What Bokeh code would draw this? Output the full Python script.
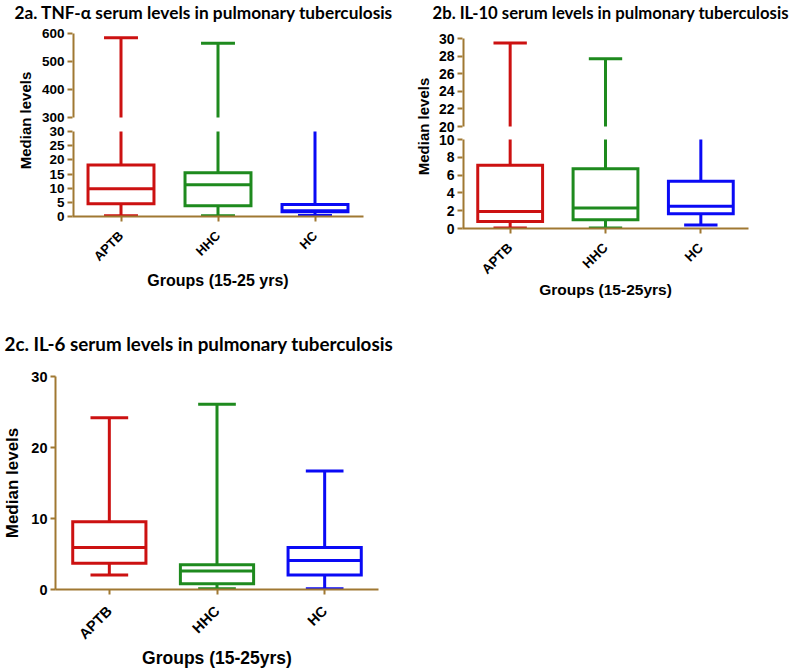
import numpy as np
from math import pi
from bokeh.plotting import figure
from bokeh.models import ColumnDataSource, FactorRange, Range1d, FixedTicker, CustomJSTickFormatter
from bokeh.transform import dodge
from bokeh.layouts import column, row
from bokeh.embed import file_html
from bokeh.resources import INLINE

# ---------------- data ----------------
groups = ["APTB", "HHC", "HC"]
group_colors = ["#CC1111", "#1E8A1E", "#0A0AF5"]

# 2a TNF-alpha (broken axis 0-30 / 300-600)
tnf_min = [0.3, 0.3, 0.35]
tnf_q1 = [4.5, 3.8, 1.7]
tnf_median = [9.8, 11.2, 2.0]
tnf_q3 = [18.2, 15.4, 4.2]
tnf_max = [585, 565, 45]
tnf_ticks_low = [0, 5, 10, 15, 20, 25, 30]
tnf_ticks_high = [300, 400, 500, 600]

# 2b IL-10 (broken axis 0-10 / 20-30)
il10_min = [0.05, 0.05, 0.38]
il10_q1 = [0.79, 0.98, 1.65]
il10_median = [1.9, 2.3, 2.5]
il10_q3 = [7.1, 6.7, 5.3]
il10_max = [29.5, 27.7, 12.0]
il10_ticks_low = [0, 2, 4, 6, 8, 10]
il10_ticks_high = [20, 22, 24, 26, 28, 30]

# 2c IL-6
il6_min = [2.05, 0.1, 0.1]
il6_q1 = [3.7, 0.8, 2.05]
il6_median = [5.9, 2.6, 4.1]
il6_q3 = [9.55, 3.5, 5.9]
il6_max = [24.2, 26.1, 16.7]
il6_ticks = [0, 10, 20, 30]

AXIS_COLOR = "#A07832"
BOX_W = 0.68
CAP_W = 0.35
LW = 3
TICK_FONT = "Liberation Sans"


def style_axis(ax, size, standoff=3):
    ax.axis_line_color = AXIS_COLOR
    ax.axis_line_width = 2
    ax.major_tick_line_color = AXIS_COLOR
    ax.major_tick_line_width = 2
    ax.major_tick_in = 0
    ax.major_tick_out = 5
    ax.minor_tick_line_color = None
    ax.major_label_text_font = TICK_FONT
    ax.major_label_text_font_style = "bold"
    ax.major_label_text_font_size = size
    ax.major_label_text_color = "black"
    ax.major_label_standoff = standoff
    ax.axis_label_text_font = TICK_FONT
    ax.axis_label_text_font_style = "bold"
    ax.axis_label_text_color = "black"


def make_panel(stats, low_ticks, high_ticks, g, t):
    mn, q1, med, q3, mx = (np.asarray(v, dtype=float) for v in stats)
    low_top = low_ticks[-1]
    if high_ticks is None:
        fh = g["pad"] + g["low_px"]
    else:
        fh = g["pad"] + g["hi_px"] + g["gap"] + g["low_px"]
    unit = low_top / g["low_px"]          # primary-range units per pixel
    p = figure(width=g["w"], height=g["h"], x_range=FactorRange(*groups),
               y_range=Range1d(low_ticks[0], fh * unit * (1 + 1e-7)),
               output_backend="svg", toolbar_location=None,
               min_border_left=g["left"], min_border_right=g["w"] - g["left"] - g["fw"],
               min_border_top=g["top"], min_border_bottom=g["h"] - g["top"] - fh)
    p.outline_line_color = None
    p.xgrid.visible = False
    p.ygrid.visible = False

    # title
    p.title.text = t["title"]
    p.title.align = "left"
    p.title.vertical_align = "top"
    p.title.offset = t["title_offset"]
    p.title.standoff = t["title_standoff"]
    p.title.text_font = "Lato"
    p.title.text_font_style = "bold"
    p.title.text_font_size = t["title_size"]
    p.title.text_color = "black"

    yax = p.yaxis[0]
    style_axis(yax, g["ytick"])
    yax.axis_label = "Median levels"
    yax.axis_label_text_font_size = t["yl_size"]
    yax.axis_label_standoff = t["yl_standoff"]
    xax = p.xaxis[0]
    style_axis(xax, g["xtick"], g["xtick_standoff"])
    xax.major_label_orientation = pi / 4
    xax.axis_label = t["xlabel"]
    xax.axis_label_text_font_size = t["xl_size"]
    xax.axis_label_standoff = t["xl_standoff"]

    if high_ticks is None:
        yax.ticker = FixedTicker(ticks=low_ticks)
    else:
        hb, ht = high_ticks[0], high_ticks[-1]
        hi_unit = (ht - hb) / g["hi_px"]
        hi_end = ht + g["pad"] * hi_unit
        p.extra_y_ranges = {"hi": Range1d(hi_end - fh * hi_unit, hi_end)}
        # position of the upper-segment ticks expressed in primary-range units
        v0 = (g["low_px"] + g["gap"]) * unit
        k = unit / hi_unit
        virt_high = [v0 + (h - hb) * k for h in high_ticks]
        yax.ticker = FixedTicker(ticks=list(low_ticks) + virt_high)
        yax.formatter = CustomJSTickFormatter(
            args=dict(lt=low_top, v0=v0, k=k, hb=hb),
            code="""
                if (tick > lt + 1e-6) { return String(Math.round(hb + (tick - v0) / k)); }
                return String(Math.round(tick * 1000) / 1000);
            """)
        yax.axis_line_color = None
        # axis spines, broken between the two segments
        sp_lo = ColumnDataSource(dict(x=[0], y0=[low_ticks[0]], y1=[low_top]))
        sp_hi = ColumnDataSource(dict(x=[0], y0=[hb], y1=[ht]))
        p.segment(x0="x", x1="x", y0="y0", y1="y1", source=sp_lo, line_color=AXIS_COLOR, line_width=4)
        p.segment(x0="x", x1="x", y0="y0", y1="y1", source=sp_hi, line_color=AXIS_COLOR, line_width=4,
                  y_range_name="hi")

    wtop = np.minimum(mx, low_top)
    src = ColumnDataSource(dict(g=groups, c=group_colors, mn=mn, q1=q1, med=med, q3=q3, wtop=wtop))
    kw = dict(line_width=LW, line_color="c", source=src)
    dl = dict(range=p.x_range)
    # lower whisker + cap
    p.segment(x0="g", x1="g", y0="mn", y1="q1", **kw)
    p.segment(x0=dodge("g", -CAP_W / 2, **dl), x1=dodge("g", CAP_W / 2, **dl), y0="mn", y1="mn", **kw)
    # upper whisker (lower segment)
    p.segment(x0="g", x1="g", y0="q3", y1="wtop", **kw)
    # box + median
    p.vbar(x="g", width=BOX_W, bottom="q1", top="q3", fill_color=None, line_join="miter", **kw)
    p.segment(x0=dodge("g", -BOX_W / 2, **dl), x1=dodge("g", BOX_W / 2, **dl), y0="med", y1="med", **kw)
    # upper caps inside the lower segment
    m_low = mx <= low_top
    if m_low.any():
        s_low = ColumnDataSource(dict(g=list(np.array(groups)[m_low]), c=list(np.array(group_colors)[m_low]),
                                      mx=mx[m_low]))
        p.segment(x0=dodge("g", -CAP_W / 2, **dl), x1=dodge("g", CAP_W / 2, **dl),
                  y0="mx", y1="mx", line_width=LW, line_color="c", source=s_low)
    if high_ticks is not None:
        m_hi = mx >= high_ticks[0]
        if m_hi.any():
            s_hi = ColumnDataSource(dict(g=list(np.array(groups)[m_hi]), c=list(np.array(group_colors)[m_hi]),
                                         hb=[high_ticks[0]] * int(m_hi.sum()), mx=mx[m_hi]))
            p.segment(x0="g", x1="g", y0="hb", y1="mx", line_width=LW, line_color="c",
                      source=s_hi, y_range_name="hi")
            p.segment(x0=dodge("g", -CAP_W / 2, **dl), x1=dodge("g", CAP_W / 2, **dl),
                      y0="mx", y1="mx", line_width=LW, line_color="c", source=s_hi, y_range_name="hi")
    return p


geom_a = dict(w=400, h=300, left=72, top=24, pad=9, hi_px=84, gap=14, low_px=85, fw=291,
              ytick="13.5px", xtick="13px", xtick_standoff=12)
geom_b = dict(w=400, h=312, left=62, top=24, pad=14, hi_px=88, gap=13, low_px=89, fw=286,
              ytick="14px", xtick="13.5px", xtick_standoff=12)
geom_c = dict(w=400, h=358, left=53, top=64, pad=0, hi_px=None, gap=None, low_px=215, fw=325,
              ytick="14.5px", xtick="14.5px", xtick_standoff=14)

pa = make_panel([tnf_min, tnf_q1, tnf_median, tnf_q3, tnf_max], tnf_ticks_low, tnf_ticks_high, geom_a,
                dict(title="2a. TNF-\u03b1  serum levels in pulmonary tuberculosis", title_offset=-58,
                     title_standoff=0, title_size="17.3px", yl_size="15px", yl_standoff=5,
                     xlabel="Groups (15-25 yrs)", xl_size="16px", xl_standoff=0))
pb = make_panel([il10_min, il10_q1, il10_median, il10_q3, il10_max], il10_ticks_low, il10_ticks_high, geom_b,
                dict(title="2b.  IL-10 serum levels in pulmonary tuberculosis", title_offset=-30,
                     title_standoff=0, title_size="16.7px", yl_size="15px", yl_standoff=4,
                     xlabel="Groups (15-25yrs)", xl_size="15.5px", xl_standoff=-4))
pc = make_panel([il6_min, il6_q1, il6_median, il6_q3, il6_max], il6_ticks, None, geom_c,
                dict(title="2c. IL-6 serum levels in pulmonary tuberculosis", title_offset=-51,
                     title_standoff=39, title_size="18.8px", yl_size="17px", yl_standoff=6,
                     xlabel="Groups (15-25yrs)", xl_size="17.5px", xl_standoff=-3))

layout = column(row(pa, pb), pc)
open("out.html", "w").write(file_html(layout, INLINE))
